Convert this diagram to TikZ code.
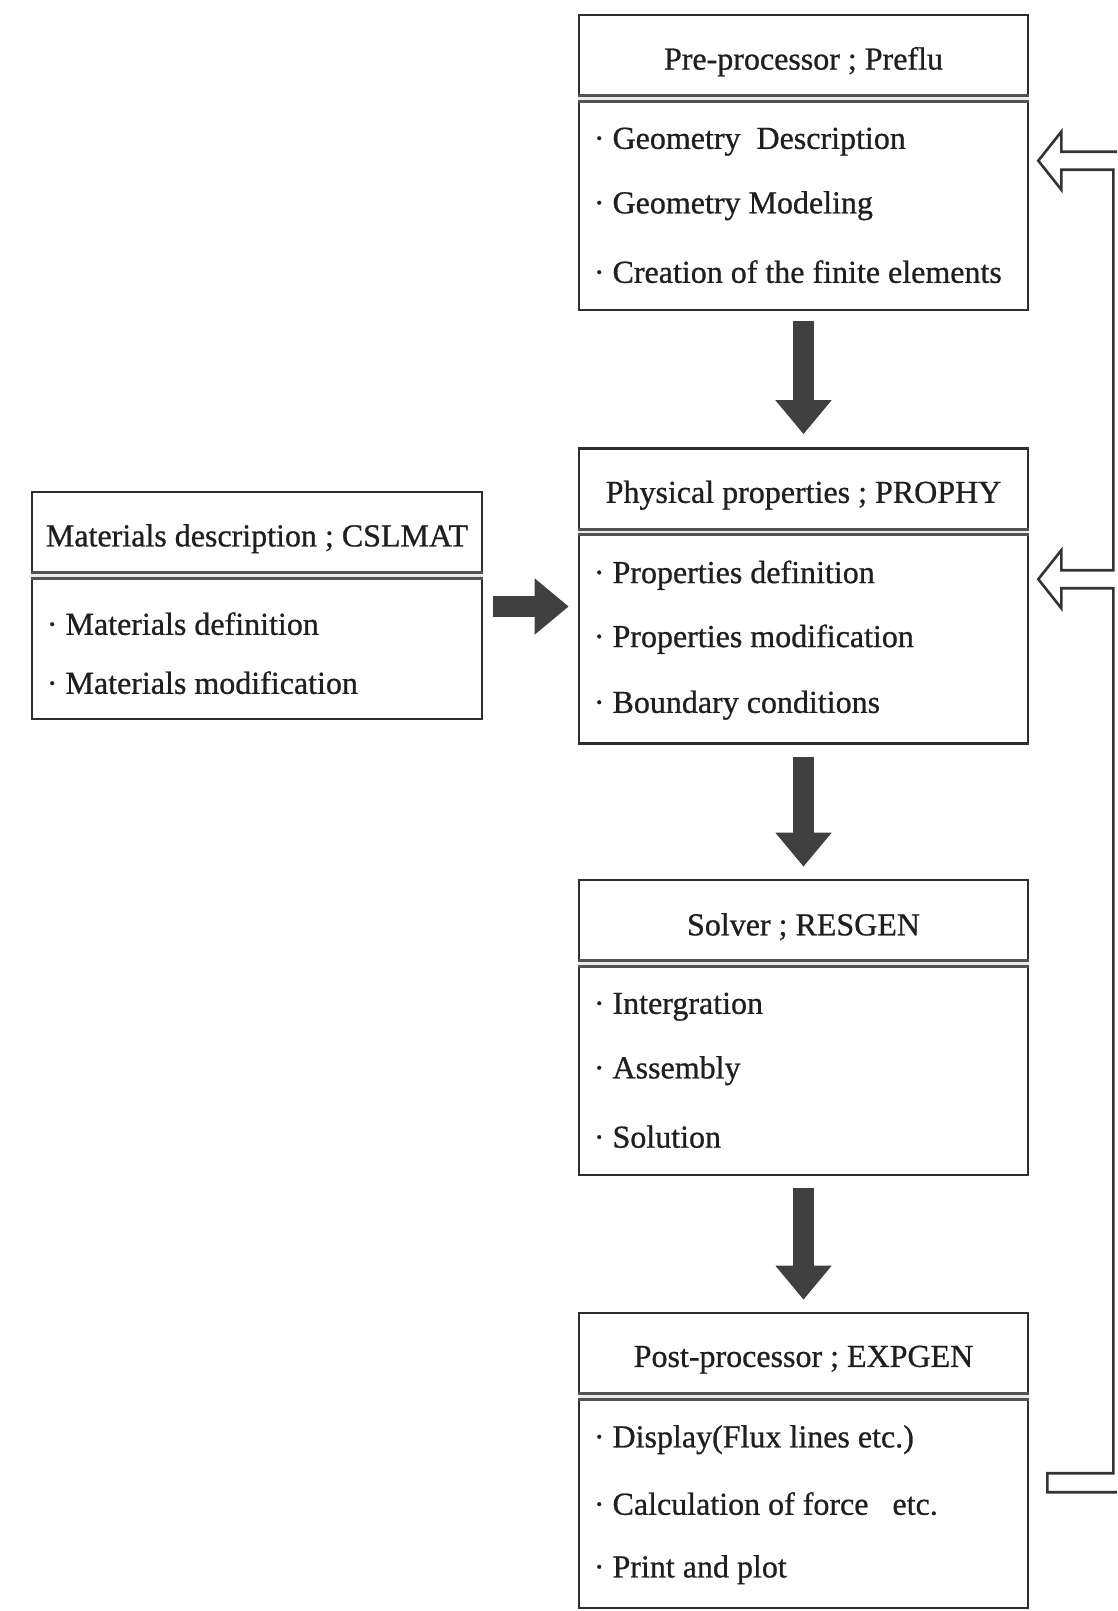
\documentclass[tikz,border=0pt]{standalone}
\usepackage{fontspec}
\setmainfont{Liberation Serif}
\newfontfamily\heavy[FakeBold=0.8]{Liberation Serif}
\usetikzlibrary{arrows.meta,calc}

\begin{document}
\begin{tikzpicture}[x=1pt,y=-1pt,
 box/.style={draw=black!82,line width=2.6pt,minimum width=449pt,minimum height=295pt,inner sep=0pt},
 sep/.style={draw=black!68,line width=3pt,double=black!8,double distance=2.5pt},
 head/.style={font=\heavy\fontsize{32}{38}\selectfont,text=black!88},
 item/.style={anchor=west,font=\heavy\fontsize{32}{38}\selectfont,text=black!88,inner sep=0pt},
 fat/.style={draw=black!75,line width=21pt,-{Triangle[length=34pt,width=54pt]}},
 hollow/.style={draw=black!80,line width=2.6pt,fill=white,line join=miter}]
\useasboundingbox (0,0) rectangle (1117,1611);
\clip (0,0) rectangle (1117,1611);
% the four stages and the material input
\node[box] (pre) at (803.5,162.5) {};
\node[box] (phy) at (803.5,596) {};
\node[box] (sol) at (803.5,1027.5) {};
\node[box] (post) at (803.5,1460.5) {};
\node[box,minimum width=450pt,minimum height=227pt] (mat) at (257,605.5) {};
\foreach \b/\t in {pre/{Pre-processor ; Preflu},phy/{Physical properties ; PROPHY},sol/{Solver ; RESGEN},post/{Post-processor ; EXPGEN},mat/{Materials description ; CSLMAT}}{
 \node[head] (\b-h) at ($(\b.north)+(0,48)$) {\t};
 \draw[sep] ($(\b.north west)+(0,85)$) -- ($(\b.north east)+(0,85)$);
}
\foreach \b/\dy/\t in {pre/128/{Geometry\ \ Description},pre/192/{Geometry Modeling},pre/258/{Creation of the finite elements},
 phy/128/{Properties definition},phy/192/{Properties modification},phy/258/{Boundary conditions},
 sol/128/{Intergration},sol/192/{Assembly},sol/258/{Solution},
 post/128/{Display(Flux lines etc.)},post/192/{Calculation of force\ \ \ etc.},post/258/{Print and plot},
 mat/133/{Materials definition},mat/192/{Materials modification}}{
 \node[item] (\b\dy) at ($(\b.north west)+(16,\dy)$) {·\ \t};
}
% flow arrows
\draw[fat] ($(pre.south)+(0,10)$) -- ($(phy.north)+(0,-13)$);
\draw[fat] ($(phy.south)+(0,12)$) -- ($(sol.north)+(0,-12)$);
\draw[fat] ($(sol.south)+(0,12)$) -- ($(post.north)+(0,-12)$);
\draw[fat] ($(mat.east)+(10,1)$) -- ($(mat.east -| phy.west)+(-9,1)$);
% feedback loop
\coordinate (inA) at ($(pre.north east)+(9,147)$);
\coordinate (inB) at ($(phy.north east)+(9,132)$);
\coordinate (outC) at ($(post.north east)+(18,171)$);
\draw[hollow] (inA) -- ++(23,-29) -- ++(0,20) -- ++(80,0) |- ($(outC)+(0,9.5)$)
 -- ++(0,-19) -- ++(66,0) |- ($(inB)+(23,9)$) -- ++(0,20) -- (inB)
 -- ++(23,-29) -- ++(0,20) -- ++(52,0) |- ($(inA)+(23,9)$) -- ++(0,20) -- cycle;
\end{tikzpicture}
\end{document}
